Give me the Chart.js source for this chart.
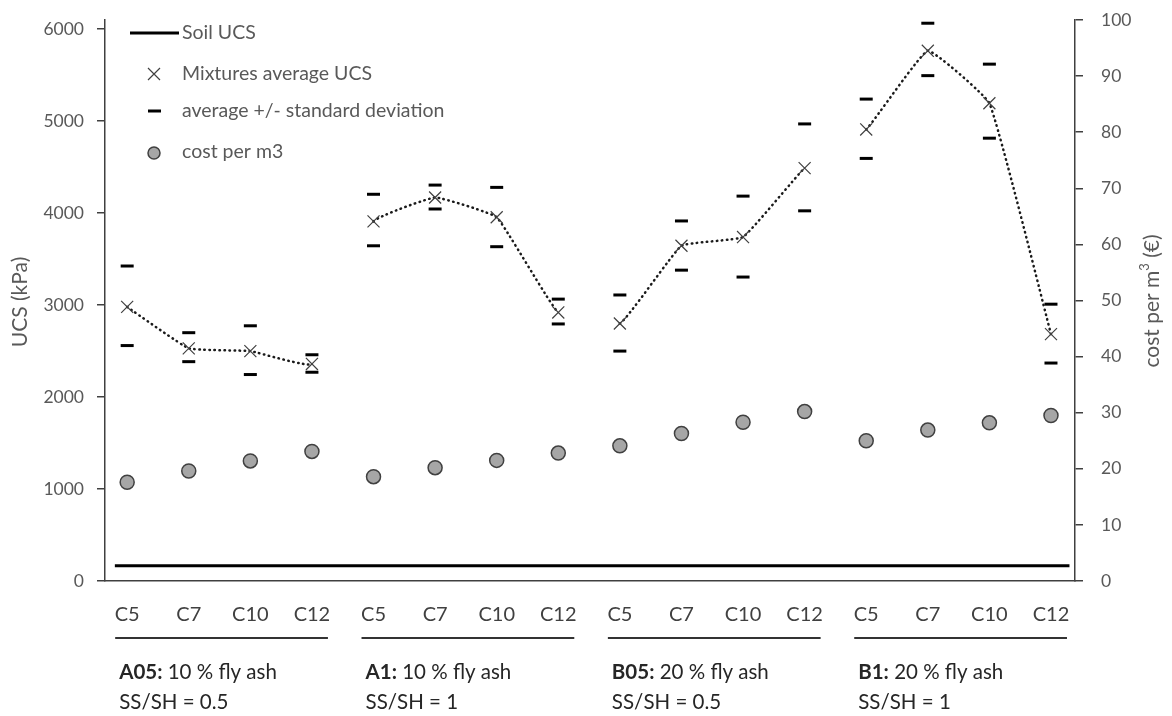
<!DOCTYPE html>
<html>
<head>
<meta charset="utf-8">
<script src="https://cdn.jsdelivr.net/npm/chart.js@4.4.1/dist/chart.umd.min.js"></script>
<style>
  html, body { margin: 0; padding: 0; background: #fff; }
  #wrap { width: 1172px; height: 716px; }
</style>
</head>
<body>
<div id="wrap"><canvas id="ucsChart" width="1172" height="716"></canvas></div>
<script>
// Mixtures and curing conditions, in plotting order
const groups = ['A05:', 'A1:', 'B05:', 'B1:'];
const groupText = [' 10 % fly ash', ' 10 % fly ash', ' 20 % fly ash', ' 20 % fly ash'];
const groupRatio = ['SS/SH = 0.5', 'SS/SH = 1', 'SS/SH = 0.5', 'SS/SH = 1'];
const curing = ['C5', 'C7', 'C10', 'C12'];

// UCS (kPa): mean and mean +/- one standard deviation
const avgUCS   = [2980, 2530, 2500, 2360, 3910, 4170, 3955, 2920, 2800, 3645, 3740, 4490, 4910, 5765, 5195, 2685];
const upperUCS = [3425, 2700, 2775, 2460, 4205, 4305, 4280, 3065, 3110, 3915, 4185, 4970, 5240, 6065, 5620, 3010];
const lowerUCS = [2560, 2385, 2245, 2270, 3645, 4045, 3635, 2795, 2500, 3380, 3305, 4025, 4595, 5495, 4815, 2370];
const soilUCS = 165;
const soilSpan = [0.8, 16.3];

// cost per m3 (€)
const cost = [17.6, 19.6, 21.4, 23.1, 18.6, 20.2, 21.5, 22.8, 24.1, 26.3, 28.3, 30.2, 25.0, 26.9, 28.2, 29.5];

const ucsTicks = [0, 1000, 2000, 3000, 4000, 5000, 6000];
const costTicks = [0, 10, 20, 30, 40, 50, 60, 70, 80, 90, 100];

const FONT = 'Lato, "Open Sans", sans-serif';
const GREY = '#595959';

const pts = arr => arr.map((v, i) => ({ x: i + 1, y: v }));

function drawCross(ctx, x, y, r) {
  ctx.beginPath();
  ctx.moveTo(x - r, y - r); ctx.lineTo(x + r, y + r);
  ctx.moveTo(x - r, y + r); ctx.lineTo(x + r, y - r);
  ctx.stroke();
}

// keep the plot area fixed: no extra room for the end tick labels
function fixAxis(width) {
  return s => {
    s.width = width;
    s.paddingTop = 0;
    s.paddingBottom = 0;
  };
}

// legend, axis titles and the grouped category labels
const annotate = {
  id: 'annotate',
  afterDraw(chart) {
    const { ctx } = chart;
    const x = chart.scales.x;
    ctx.save();

    // axis titles
    ctx.fillStyle = GREY;
    ctx.font = '21px ' + FONT;
    ctx.textBaseline = 'middle';
    ctx.textAlign = 'center';
    ctx.save();
    ctx.translate(20, 302);
    ctx.rotate(-Math.PI / 2);
    ctx.fillText('UCS (kPa)', 0, 0);
    ctx.restore();

    ctx.save();
    ctx.translate(1152, 301);
    ctx.rotate(-Math.PI / 2);
    ctx.textAlign = 'left';
    const a = 'cost per m', b = '3', c = ' (€)';
    ctx.font = '21px ' + FONT;
    const wa = ctx.measureText(a).width, wc = ctx.measureText(c).width;
    ctx.font = '13px ' + FONT;
    const wb = ctx.measureText(b).width;
    let px = -(wa + wb + wc) / 2;
    ctx.font = '21px ' + FONT;
    ctx.fillText(a, px, 0); px += wa;
    ctx.font = '13px ' + FONT;
    ctx.fillText(b, px, -7); px += wb;
    ctx.font = '21px ' + FONT;
    ctx.fillText(c, px, 0);
    ctx.restore();

    // legend
    ctx.textAlign = 'left';
    ctx.font = '19.5px ' + FONT;
    ctx.strokeStyle = '#000';
    ctx.lineWidth = 3;
    ctx.beginPath(); ctx.moveTo(130, 33); ctx.lineTo(179, 33); ctx.stroke();
    ctx.fillText('Soil UCS', 182, 33);

    ctx.strokeStyle = '#404040';
    ctx.lineWidth = 1.2;
    drawCross(ctx, 154, 74, 6);
    ctx.fillText('Mixtures average UCS', 182, 74);

    ctx.strokeStyle = '#000';
    ctx.lineWidth = 3;
    ctx.beginPath(); ctx.moveTo(148, 111); ctx.lineTo(161, 111); ctx.stroke();
    ctx.fillText('average +/- standard deviation', 182, 111);

    ctx.beginPath(); ctx.arc(154, 153, 6, 0, Math.PI * 2);
    ctx.fillStyle = '#a6a6a6'; ctx.fill();
    ctx.strokeStyle = '#404040'; ctx.lineWidth = 1.5; ctx.stroke();
    ctx.fillStyle = GREY;
    ctx.fillText('cost per m3', 182, 152);

    // grouped category labels under the plot
    groups.forEach((g, gi) => {
      const first = x.getPixelForValue(gi * 4 + 1);
      const last = x.getPixelForValue(gi * 4 + 4);
      ctx.fillStyle = '#404040';
      ctx.font = '20px ' + FONT;
      ctx.textAlign = 'center';
      curing.forEach((c, ci) => {
        ctx.fillText(c, x.getPixelForValue(gi * 4 + ci + 1), 615);
      });
      ctx.strokeStyle = '#333';
      ctx.lineWidth = 2;
      ctx.beginPath(); ctx.moveTo(first - 12, 638); ctx.lineTo(last + 16, 638); ctx.stroke();

      ctx.fillStyle = '#262626';
      ctx.textAlign = 'left';
      ctx.font = 'bold 20.5px ' + FONT;
      ctx.fillText(g, first - 8, 672);
      const wg = ctx.measureText(g).width;
      ctx.font = '20.5px ' + FONT;
      ctx.fillText(groupText[gi], first - 8 + wg, 672);
      ctx.fillText(groupRatio[gi], first - 8, 702);
    });
    ctx.restore();
  }
};

const tickFont = { family: FONT, size: 17.5 };

new Chart(document.getElementById('ucsChart'), {
  type: 'scatter',
  data: {
    datasets: [
      {
        label: 'Soil UCS',
        data: soilSpan.map(v => ({ x: v, y: soilUCS })),
        showLine: true,
        borderColor: '#000',
        borderWidth: 3,
        pointRadius: 0,
        yAxisID: 'yUcs'
      },
      {
        label: 'Mixtures average UCS',
        data: pts(avgUCS),
        showLine: true,
        tension: 0.1,
        borderColor: '#1a1a1a',
        borderWidth: 2.5,
        borderDash: [0.5, 4.5],
        borderCapStyle: 'round',
        segment: {
          // no line between mixtures
          borderColor: ctx => (ctx.p0DataIndex % 4 === 3 ? 'rgba(0,0,0,0)' : '#1a1a1a')
        },
        pointStyle: 'crossRot',
        pointRadius: 8.5,
        pointBorderWidth: 1.2,
        pointBorderColor: '#404040',
        yAxisID: 'yUcs'
      },
      {
        label: 'average + standard deviation',
        data: pts(upperUCS),
        pointStyle: 'line',
        pointRadius: 6.5,
        pointBorderWidth: 3,
        pointBorderColor: '#000',
        yAxisID: 'yUcs'
      },
      {
        label: 'average - standard deviation',
        data: pts(lowerUCS),
        pointStyle: 'line',
        pointRadius: 6.5,
        pointBorderWidth: 3,
        pointBorderColor: '#000',
        yAxisID: 'yUcs'
      },
      {
        label: 'cost per m3',
        data: pts(cost),
        pointStyle: 'circle',
        pointRadius: 7,
        pointBackgroundColor: '#a6a6a6',
        pointBorderColor: '#404040',
        pointBorderWidth: 1.5,
        yAxisID: 'yCost'
      }
    ]
  },
  options: {
    responsive: false,
    animation: false,
    devicePixelRatio: 1,
    layout: { padding: { top: 20, left: 0, right: 0, bottom: 0 } },
    plugins: { legend: { display: false }, tooltip: { enabled: false } },
    scales: {
      x: {
        type: 'linear',
        min: 0.64,
        max: 16.39,
        ticks: { display: false },
        grid: { display: false },
        border: { display: true, color: '#404040', width: 1.5 },
        afterFit: s => { s.height = 135; s.paddingLeft = 0; s.paddingRight = 0; }
      },
      yUcs: {
        position: 'left',
        min: 0,
        max: 6100,
        afterBuildTicks: s => { s.ticks = ucsTicks.map(v => ({ value: v })); },
        ticks: { color: GREY, font: tickFont, padding: 13, callback: v => String(v) },
        grid: { drawOnChartArea: false, drawTicks: true, tickLength: 8, color: '#404040', lineWidth: 1.5 },
        border: { display: true, color: '#404040', width: 1.5 },
        afterFit: fixAxis(105)
      },
      yCost: {
        position: 'right',
        min: 0,
        max: 100,
        afterBuildTicks: s => { s.ticks = costTicks.map(v => ({ value: v })); },
        ticks: { color: GREY, font: tickFont, padding: 18, callback: v => String(v) },
        grid: { drawOnChartArea: false, drawTicks: true, tickLength: 8, color: '#404040', lineWidth: 1.5 },
        border: { display: true, color: '#404040', width: 1.5 },
        afterFit: fixAxis(97)
      }
    }
  },
  plugins: [annotate]
});
</script>
</body>
</html>
